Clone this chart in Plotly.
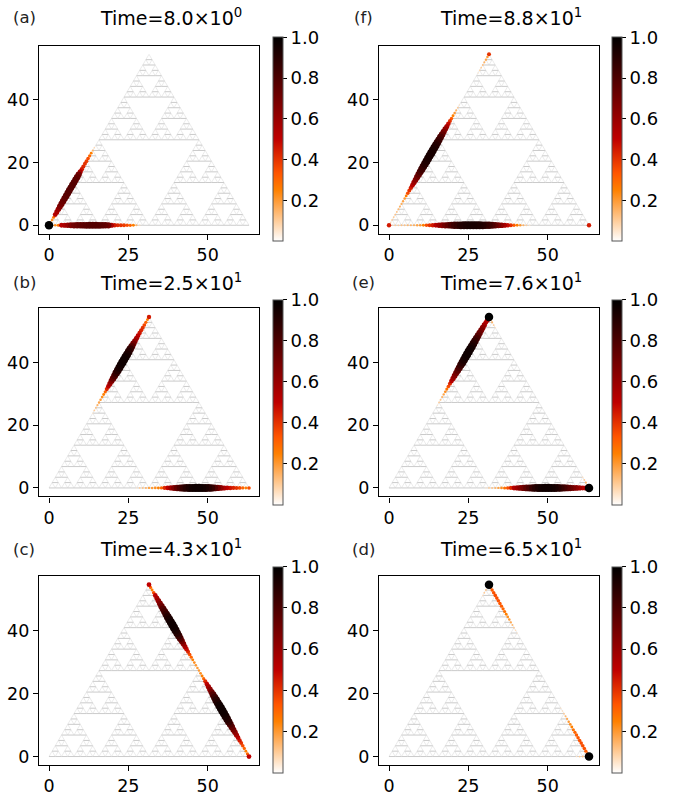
import numpy as np
import plotly.graph_objects as go

# ---------------------------------------------------------------------------
# Sierpinski gasket geometry
# ---------------------------------------------------------------------------
SIDE = 63.0          # length of the outer triangle side
MESH_GEN = 5         # recursion depth of the drawn gasket
N_SEG = 64           # lattice steps along one outer edge for the amplitudes
SQ3 = np.sqrt(3.0)
HEIGHT = SIDE * SQ3 / 2

CORNERS = {"O": (0.0, 0.0), "R": (SIDE, 0.0), "A": (SIDE / 2, HEIGHT)}
EDGES = {"OA": ("O", "A"), "OR": ("O", "R"), "AR": ("A", "R")}

# ---------------------------------------------------------------------------
# Amplitudes (normalised |psi|) at the lattice nodes of the outer edges.
# Each entry: (edge, first node index along the edge, values ...)
# corner values are given in the order O, R, A
# ---------------------------------------------------------------------------
a_corners = [1.0, 0.0, 0.0]
a_edge = [0.20, 0.22, 0.28, 0.52, 0.55, 0.60, 0.66, 0.70, 0.72, 0.74,
          0.76, 0.77, 0.78, 0.78, 0.78, 0.77, 0.76, 0.74, 0.70, 0.55,
          0.45, 0.42, 0.40, 0.38, 0.35, 0.30, 0.25, 0.15, 0.08]

b_corners = [0.0, 0.35, 0.45]
b_edge = [0.05, 0.10, 0.12, 0.15, 0.18, 0.20, 0.22, 0.25, 0.30, 0.42,
          0.50, 0.58, 0.66, 0.74, 0.80, 0.86, 0.90, 0.93, 0.95, 0.96,
          0.96, 0.95, 0.93, 0.90, 0.86, 0.78, 0.70, 0.62, 0.55, 0.50,
          0.46, 0.43, 0.40, 0.36, 0.30, 0.25]

c_corners = [0.0, 0.50, 0.50]
c_right = [0.30, 0.25, 0.35, 0.50, 0.55, 0.60, 0.66, 0.72, 0.78, 0.82,
           0.86, 0.90, 0.93, 0.95, 0.96, 0.95, 0.93, 0.90, 0.85, 0.78,
           0.70, 0.62, 0.55, 0.48, 0.42, 0.35, 0.30, 0.25, 0.22, 0.20,
           0.20, 0.20, 0.22, 0.25, 0.30, 0.42, 0.50, 0.56, 0.62, 0.70,
           0.78, 0.84, 0.89, 0.92, 0.95, 0.96, 0.96, 0.95, 0.93, 0.90,
           0.86, 0.80, 0.74, 0.68, 0.62, 0.56, 0.50, 0.45, 0.40, 0.35,
           0.30, 0.25, 0.30]

d_corners = [0.0, 1.0, 1.0]
d_right_top = [0.30, 0.32, 0.34, 0.35, 0.35, 0.34, 0.33, 0.32, 0.30,
               0.28, 0.25, 0.22, 0.20, 0.17, 0.14, 0.10, 0.07, 0.05]
d_right_low = [0.05, 0.07, 0.10, 0.14, 0.17, 0.20, 0.22, 0.25, 0.28,
               0.30, 0.32, 0.33, 0.34, 0.35, 0.35, 0.34, 0.32, 0.30]
d_side_tail = [0.06, 0.10, 0.12]

e_corners = [0.0, 1.0, 1.0]
e_edge = [0.05, 0.10, 0.12, 0.15, 0.18, 0.22, 0.28, 0.35, 0.42, 0.52,
          0.58, 0.64, 0.70, 0.76, 0.81, 0.86, 0.90, 0.93, 0.95, 0.96,
          0.96, 0.95, 0.93, 0.90, 0.86, 0.82, 0.77, 0.72, 0.67, 0.62,
          0.57, 0.52, 0.55]
e_right_top = [0.20, 0.15, 0.10, 0.06]
e_right_low = [0.06, 0.10, 0.15, 0.20]

f_corners = [0.45, 0.45, 0.40]
f_edge = [0.08, 0.10, 0.10, 0.12, 0.12, 0.14, 0.15, 0.16, 0.18, 0.20,
          0.25, 0.35, 0.40, 0.45, 0.52, 0.58, 0.64, 0.70, 0.75, 0.80,
          0.84, 0.87, 0.90, 0.92, 0.93, 0.94, 0.94, 0.93, 0.92, 0.90,
          0.87, 0.84, 0.80, 0.74, 0.68, 0.62, 0.55, 0.48, 0.40, 0.32,
          0.25, 0.20, 0.15, 0.10, 0.06]
f_apex_tail = [0.05, 0.08, 0.10, 0.12, 0.15, 0.18, 0.20]

panels = [
    dict(tag="(a)", time="8.0×10<sup>0</sup>", corners=a_corners,
         segs=[("OA", 1, a_edge), ("OR", 1, a_edge)]),
    dict(tag="(f)", time="8.8×10<sup>1</sup>", corners=f_corners,
         segs=[("OA", 1, f_edge), ("OR", 1, f_edge), ("OA", 57, f_apex_tail)]),
    dict(tag="(b)", time="2.5×10<sup>1</sup>", corners=b_corners,
         segs=[("OA", 28, b_edge), ("OR", 28, b_edge)]),
    dict(tag="(e)", time="7.6×10<sup>1</sup>", corners=e_corners,
         segs=[("OA", 31, e_edge), ("OR", 31, e_edge),
               ("AR", 1, e_right_top), ("AR", 60, e_right_low)]),
    dict(tag="(c)", time="4.3×10<sup>1</sup>", corners=c_corners,
         segs=[("AR", 1, c_right)]),
    dict(tag="(d)", time="6.5×10<sup>1</sup>", corners=d_corners,
         segs=[("AR", 1, d_right_top), ("AR", 46, d_right_low),
               ("OA", 60, d_side_tail), ("OR", 60, d_side_tail)]),
]

# gist_heat reversed
HEAT_R = [[0.0, "rgb(255,255,255)"], [0.25, "rgb(255,128,0)"],
          [1 / 3, "rgb(255,85,0)"], [0.5, "rgb(191,0,0)"],
          [1.0, "rgb(0,0,0)"]]

FONT = "DejaVu Sans"


def gasket(x0, y0, s, g, out):
    if g == 0:
        out.append((x0, y0, s))
        return
    h = s / 2
    gasket(x0, y0, h, g - 1, out)
    gasket(x0 + h, y0, h, g - 1, out)
    gasket(x0 + h / 2, y0 + h * SQ3 / 2, h, g - 1, out)


tris = []
gasket(0.0, 0.0, SIDE, MESH_GEN, tris)
hx, hy, dx, dy = [], [], [], []
for x0, y0, s in tris:
    hx += [x0, x0 + s, None]
    hy += [y0, y0, None]
    dx += [x0, x0 + s / 2, x0 + s, None]
    dy += [y0, y0 + s * SQ3 / 2, y0, None]


def node_values(p):
    xs, ys, vs = [], [], []
    for name, v in zip(("O", "R", "A"), p["corners"]):
        if v > 0:
            xs.append(CORNERS[name][0])
            ys.append(CORNERS[name][1])
            vs.append(v)
    for edge, start, vals in p["segs"]:
        p0 = np.array(CORNERS[EDGES[edge][0]])
        p1 = np.array(CORNERS[EDGES[edge][1]])
        for i, v in enumerate(vals):
            k = start + i
            if 0 < k < N_SEG and v > 0:
                q = p0 + (p1 - p0) * k / N_SEG
                xs.append(q[0])
                ys.append(q[1])
                vs.append(v)
    order = np.argsort(vs, kind="stable")
    return (np.array(xs)[order], np.array(ys)[order], np.array(vs)[order])


W, Hpx = 685, 796
col_x = [(39, 259), (379, 599)]
row_y = [(46, 235), (310, 499), (579, 769)]
cbar_x = [273, 612]
cbar_y = [(38, 242), (302, 507), (570, 776)]
title_y = [17, 283, 551]
title_cx = [171, 511]
tag_cx = [24, 363]

fig = go.Figure()
layout = {}
annotations = []

for idx, p in enumerate(panels):
    r, c = divmod(idx, 2)
    n = idx + 1
    xa = "x" if n == 1 else f"x{n}"
    ya = "y" if n == 1 else f"y{n}"

    fig.add_trace(go.Scatter(x=dx, y=dy, xaxis=xa, yaxis=ya, mode="lines",
                             line=dict(color="#e6e6e6", width=0.8),
                             hoverinfo="skip", showlegend=False))
    fig.add_trace(go.Scatter(x=hx, y=hy, xaxis=xa, yaxis=ya, mode="lines",
                             line=dict(color="#cbcbcb", width=1.0),
                             hoverinfo="skip", showlegend=False))

    px, py, pv = node_values(p)
    cb_top, cb_bot = cbar_y[r]
    fig.add_trace(go.Scatter(
        x=px, y=py, xaxis=xa, yaxis=ya, mode="markers", showlegend=False,
        marker=dict(
            color=pv, cmin=0, cmax=1, colorscale=HEAT_R, size=1.0 + 7.5 * pv,
            line=dict(width=0), opacity=1.0, showscale=True,
            colorbar=dict(
                x=cbar_x[c] / W, xanchor="left", xpad=0,
                y=1 - (cb_top + cb_bot) / 2 / Hpx, yanchor="middle", ypad=0,
                len=cb_bot - cb_top, lenmode="pixels",
                thickness=10, thicknessmode="pixels",
                outlinewidth=1, outlinecolor="#555555",
                tickvals=[0.2, 0.4, 0.6, 0.8, 1.0],
                ticktext=["0.2", "0.4", "0.6", "0.8", "1.0"],
                ticks="outside", ticklen=4, tickwidth=1, tickcolor="black",
                tickfont=dict(family=FONT, size=18, color="black"),
            ),
        ),
    ))

    x0, x1 = col_x[c]
    y0, y1 = row_y[r]
    axis_common = dict(showline=True, mirror=True, linecolor="black",
                       linewidth=1.2, ticks="outside", ticklen=5, tickwidth=1.2,
                       tickcolor="black", showgrid=False, zeroline=False,
                       tickfont=dict(family=FONT, size=17.5, color="black"))
    layout["xaxis" if n == 1 else f"xaxis{n}"] = dict(
        domain=[x0 / W, x1 / W], range=[-3.15, 66.15], anchor=ya,
        tickvals=[0, 25, 50], **axis_common)
    layout["yaxis" if n == 1 else f"yaxis{n}"] = dict(
        domain=[1 - y1 / Hpx, 1 - y0 / Hpx], range=[-2.73, 57.29], anchor=xa,
        tickvals=[0, 20, 40], **axis_common)

    annotations.append(dict(text="Time=" + p["time"], x=title_cx[c] / W,
                            y=1 - title_y[r] / Hpx, xref="paper", yref="paper",
                            xanchor="center", yanchor="middle", showarrow=False,
                            font=dict(family=FONT, size=19, color="black")))
    annotations.append(dict(text=p["tag"], x=tag_cx[c] / W,
                            y=1 - (title_y[r] + 1) / Hpx, xref="paper",
                            yref="paper", xanchor="center", yanchor="middle",
                            showarrow=False,
                            font=dict(family=FONT, size=16.5, color="#222222")))

fig.update_layout(width=W, height=Hpx, margin=dict(l=0, r=0, t=0, b=0),
                  paper_bgcolor="white", plot_bgcolor="white",
                  annotations=annotations, **layout)

fig.write_html("out.html")
